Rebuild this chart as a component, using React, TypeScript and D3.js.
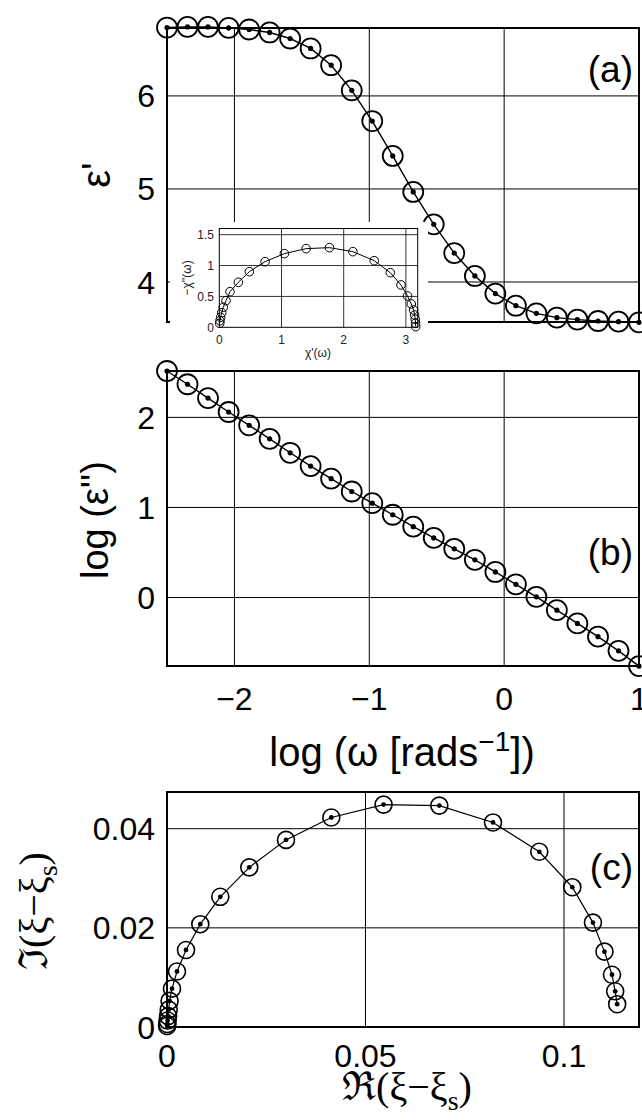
import React, { useEffect, useRef } from "react";
import * as d3 from "d3";

// log10 of angular frequency, shared by panels (a) and (b)
const logW = [-2.5, -2.348, -2.196, -2.043, -1.891, -1.739, -1.587, -1.435, -1.283, -1.13, -0.978, -0.826,
  -0.674, -0.522, -0.37, -0.217, -0.065, 0.087, 0.239, 0.391, 0.543, 0.696, 0.848, 1.0];
// panel (a): real permittivity
const epsReal = [6.735, 6.742, 6.742, 6.731, 6.714, 6.682, 6.617, 6.51, 6.33, 6.06, 5.73, 5.355,
  4.968, 4.62, 4.31, 4.065, 3.875, 3.745, 3.663, 3.617, 3.596, 3.581, 3.574, 3.567];
// panel (b): log of imaginary permittivity
const logEpsImag = [2.515, 2.368, 2.214, 2.06, 1.912, 1.762, 1.607, 1.459, 1.32, 1.177, 1.048, 0.919,
  0.787, 0.662, 0.541, 0.419, 0.284, 0.147, 0.008, -0.14, -0.287, -0.434, -0.592, -0.761];
// panel (c): real / imaginary part of xi - xi_s
const xiRe = [0.00003, 0.00008, 0.00015, 0.00028, 0.00043, 0.00065, 0.00126, 0.00252, 0.00479, 0.00839,
  0.01343, 0.02073, 0.02998, 0.04139, 0.05456, 0.06859, 0.08212, 0.09378, 0.1021, 0.1073, 0.1102,
  0.1121, 0.1129, 0.1134];
const xiIm = [0.0002, 0.0006, 0.0013, 0.0022, 0.0035, 0.00526, 0.00774, 0.0112, 0.01554, 0.02074,
  0.02626, 0.0322, 0.03774, 0.04226, 0.04486, 0.04466, 0.04126, 0.03534, 0.0282, 0.02106, 0.0152,
  0.01054, 0.0072, 0.0046];
// inset: Cole-Cole plot of chi
const chiRe = [0.006, 0.011, 0.022, 0.039, 0.064, 0.108, 0.172, 0.306, 0.483, 0.736, 1.047, 1.396,
  1.771, 2.148, 2.491, 2.749, 2.921, 3.027, 3.087, 3.124, 3.14, 3.151, 3.155, 3.158];
const chiIm = [0.065, 0.107, 0.162, 0.237, 0.324, 0.431, 0.577, 0.729, 0.901, 1.063, 1.193, 1.274,
  1.29, 1.225, 1.079, 0.885, 0.686, 0.507, 0.378, 0.28, 0.199, 0.13, 0.065, 0.01];

const ticksA = [4, 5, 6];
const ticksW = [-2, -1, 0, 1];
const tickLabelsW = ["\u22122", "\u22121", "0", "1"];
const ticksB = [0, 1, 2];
const ticksCx = [0, 0.05, 0.1];
const tickLabelsCx = ["0", "0.05", "0.1"];
const ticksCy = [0, 0.02, 0.04];
const tickLabelsCy = ["0", "0.02", "0.04"];
const ticksIx = [0, 1, 2, 3];
const ticksIy = [0, 0.5, 1, 1.5];
const tickLabelsIy = ["0", "0.5", "1", "1.5"];

const SANS = "'Liberation Sans', Arial, Helvetica, sans-serif";
const SERIF = "'Liberation Serif', 'DejaVu Serif', 'Times New Roman', serif";

function frame(g, x, y, gx, gy, bw, gw) {
  const [x0, x1] = x.range();
  const [y0, y1] = y.range();
  g.selectAll(null).data(gx).enter().append("line")
    .attr("x1", d => x(d)).attr("x2", d => x(d))
    .attr("y1", y0).attr("y2", y1)
    .attr("stroke", "#000").attr("stroke-width", gw);
  g.selectAll(null).data(gy).enter().append("line")
    .attr("y1", d => y(d)).attr("y2", d => y(d))
    .attr("x1", x0).attr("x2", x1)
    .attr("stroke", "#000").attr("stroke-width", gw);
  g.append("rect")
    .attr("x", x0).attr("y", y1)
    .attr("width", x1 - x0).attr("height", y0 - y1)
    .attr("fill", "none").attr("stroke", "#000").attr("stroke-width", bw);
}

function series(g, xs, ys, x, y, r, lw, cw, dot) {
  const line = d3.line().x(i => x(xs[i])).y(i => y(ys[i]));
  const idx = d3.range(xs.length);
  g.append("path").attr("d", line(idx))
    .attr("fill", "none").attr("stroke", "#000").attr("stroke-width", lw);
  g.selectAll(null).data(idx).enter().append("circle")
    .attr("cx", i => x(xs[i])).attr("cy", i => y(ys[i])).attr("r", r)
    .attr("fill", "none").attr("stroke", "#000").attr("stroke-width", cw);
  if (dot) {
    g.selectAll(null).data(idx).enter().append("circle")
      .attr("cx", i => x(xs[i])).attr("cy", i => y(ys[i])).attr("r", dot)
      .attr("fill", "#000");
  }
}

function yTicks(g, y, vals, labels, xr, size) {
  g.selectAll(null).data(vals).enter().append("text")
    .attr("x", xr).attr("y", d => y(d) + size * 0.36)
    .attr("text-anchor", "end")
    .style("font-family", SANS).style("font-size", size + "px")
    .text((d, i) => labels[i]);
}

function xTicks(g, x, vals, labels, base, size) {
  g.selectAll(null).data(vals).enter().append("text")
    .attr("x", d => x(d)).attr("y", base)
    .attr("text-anchor", "middle")
    .style("font-family", SANS).style("font-size", size + "px")
    .text((d, i) => labels[i]);
}

export default function App() {
  const ref = useRef(null);

  useEffect(() => {
    const svg = d3.select(ref.current);
    svg.selectAll("*").remove();

    // ---------- panel (a)
    const xA = d3.scaleLinear().domain([-2.5, 1]).range([167, 639]);
    const yA = d3.scaleLinear().domain([3.57, 6.73]).range([322, 28]);
    const gA = svg.append("g");
    frame(gA, xA, yA, [-2, -1, 0], ticksA, 2, 1);
    series(gA, logW, epsReal, xA, yA, 10, 1.4, 1.8, 2.6);
    yTicks(gA, yA, ticksA, ticksA.map(String), 155, 32);
    gA.append("text").attr("transform", "translate(110,175) rotate(-90)")
      .attr("text-anchor", "middle")
      .style("font-family", SANS).style("font-size", "40px").text("\u03b5'");
    gA.append("text").attr("x", 633).attr("y", 82).attr("text-anchor", "end")
      .style("font-family", SANS).style("font-size", "37px").text("(a)");

    // ---------- inset
    const gI = svg.append("g");
    gI.append("rect").attr("x", 170).attr("y", 222).attr("width", 258).attr("height", 143).attr("fill", "#fff");
    const xI = d3.scaleLinear().domain([0, 3.19]).range([219.3, 417.7]);
    const yI = d3.scaleLinear().domain([0, 1.6]).range([327.3, 228.5]);
    frame(gI, xI, yI, [1, 2, 3], [0.5, 1, 1.5], 1, 0.8);
    series(gI, chiRe, chiIm, xI, yI, 4.3, 1, 1, 0);
    yTicks(gI, yI, ticksIy, tickLabelsIy, 214, 12);
    xTicks(gI, xI, ticksIx, ticksIx.map(String), 344, 12);
    gI.selectAll("text").style("fill", "#222");
    gI.append("text").attr("x", 318).attr("y", 357).attr("text-anchor", "middle")
      .style("font-family", SANS).style("font-size", "12px").style("fill", "#222").text("\u03c7'(\u03c9)");
    gI.append("text").attr("transform", "translate(191,278) rotate(-90)").attr("text-anchor", "middle")
      .style("font-family", SANS).style("font-size", "12px").style("fill", "#222").text("\u2212\u03c7''(\u03c9)");

    // ---------- panel (b)
    const xB = d3.scaleLinear().domain([-2.5, 1]).range([167, 639]);
    const yB = d3.scaleLinear().domain([-0.76, 2.515]).range([666, 371]);
    const gB = svg.append("g");
    frame(gB, xB, yB, [-2, -1, 0], ticksB, 2, 1);
    series(gB, logW, logEpsImag, xB, yB, 10, 1.4, 1.8, 2.6);
    yTicks(gB, yB, ticksB, ticksB.map(String), 155, 32);
    xTicks(gB, xB, ticksW, tickLabelsW, 710, 32);
    gB.append("text").attr("transform", "translate(108,520) rotate(-90)").attr("text-anchor", "middle")
      .style("font-family", SANS).style("font-size", "38px").text("log (\u03b5'')");
    const xl = gB.append("text").attr("x", 402).attr("y", 766).attr("text-anchor", "middle")
      .style("font-family", SANS).style("font-size", "40px");
    xl.append("tspan").text("log (\u03c9 [rads");
    xl.append("tspan").attr("dy", -15).style("font-size", "28px").text("\u22121");
    xl.append("tspan").attr("dy", 15).text("])");
    gB.append("text").attr("x", 633).attr("y", 565).attr("text-anchor", "end")
      .style("font-family", SANS).style("font-size", "37px").text("(b)");

    // ---------- panel (c)
    const xC = d3.scaleLinear().domain([0, 0.1189]).range([167, 639]);
    const yC = d3.scaleLinear().domain([0, 0.0474]).range([1027, 792]);
    const gC = svg.append("g");
    frame(gC, xC, yC, [0.05, 0.1], [0.02, 0.04], 2, 1);
    series(gC, xiRe, xiIm, xC, yC, 8.5, 1.2, 1.6, 2.4);
    yTicks(gC, yC, ticksCy, tickLabelsCy, 155, 32);
    xTicks(gC, xC, ticksCx, tickLabelsCx, 1067, 32);
    gC.append("text").attr("x", 633).attr("y", 880).attr("text-anchor", "end")
      .style("font-family", SANS).style("font-size", "37px").text("(c)");
    const yl = gC.append("text").attr("transform", "translate(47,911) rotate(-90)").attr("text-anchor", "middle")
      .style("font-family", SERIF).style("font-size", "40px");
    yl.append("tspan").text("\u2111(\u03be\u2212\u03be");
    yl.append("tspan").attr("dy", 10).style("font-size", "28px").text("s");
    yl.append("tspan").attr("dy", -10).text(")");
    const cl = gC.append("text").attr("x", 407).attr("y", 1100).attr("text-anchor", "middle")
      .style("font-family", SERIF).style("font-size", "40px");
    cl.append("tspan").text("\u211c(\u03be\u2212\u03be");
    cl.append("tspan").attr("dy", 10).style("font-size", "28px").text("s");
    cl.append("tspan").attr("dy", -10).text(")");
  }, []);

  return (
    <svg ref={ref} width={642} height={1120}
      style={{ position: "absolute", left: 0, top: 0, background: "#fff" }} />
  );
}
